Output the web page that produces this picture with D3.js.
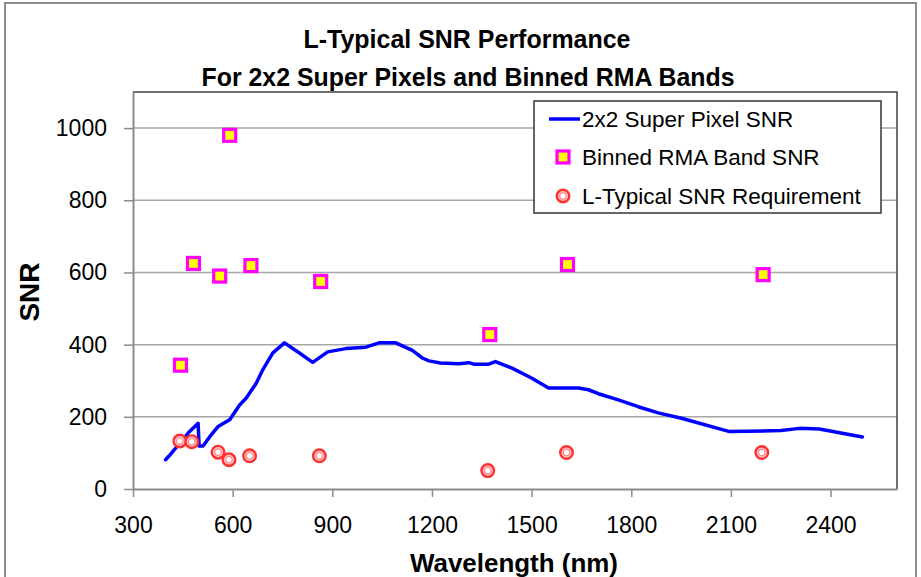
<body style="margin:0">
<script src="https://cdn.jsdelivr.net/npm/d3@7/dist/d3.min.js"></script>
<style>
  text { font-family: "Liberation Sans", Arial, sans-serif; fill: #000; }
  .tick text { font-size: 23px; }
</style>
<script>
// 2x2 super pixel SNR curve
var lineWl  = [398, 409, 441, 466, 496, 499, 511, 531, 556, 591, 621, 641, 671, 691, 721, 756, 801, 841, 886, 941, 1001, 1041, 1091, 1141, 1171, 1191, 1226, 1281, 1311, 1326, 1371, 1391, 1441, 1501, 1551, 1641, 1671, 1701, 1761, 1821, 1881, 1951, 2096, 2251, 2306, 2366, 2496];
var lineSnr = [81, 92, 127, 155, 182, 119, 119, 145, 173, 192, 233, 252, 293, 331, 377, 405, 377, 351, 380, 389, 393, 405, 405, 384, 363, 355, 349, 347, 350, 346, 346, 353, 335, 307, 280, 280, 275, 264, 247, 228, 211, 196, 159, 162, 168, 166, 144];

// binned RMA bands
var bandWl  = [443, 482, 561, 591, 655, 865, 1374, 1608, 2197];
var bandSnr = [343, 625, 590, 980, 619, 575, 428, 622, 594];

// L-typical requirement
var reqWl  = [441, 477, 556, 589, 651, 861, 1368, 1605, 2193];
var reqSnr = [133, 131, 102, 81, 92, 92, 51, 101, 101];

var xTicks = [300, 600, 900, 1200, 1500, 1800, 2100, 2400];
var yTicks = [0, 200, 400, 600, 800, 1000];

var W = 921, H = 577;
var pLeft = 133, pRight = 897, pTop = 92, pBottom = 489;

var svg = d3.select("body").append("svg")
  .attr("width", W).attr("height", H);

// outer chart frame
svg.append("rect")
  .attr("x", 5).attr("y", 3).attr("width", 911).attr("height", 600)
  .attr("fill", "white").attr("stroke", "#8c8c8c").attr("stroke-width", 2);

var x = d3.scaleLinear().domain([300, 2600]).range([pLeft, pRight]);
var y = d3.scaleLinear().domain([0, 1100]).range([pBottom, pTop]);

// gridlines
svg.append("g").selectAll("line")
  .data(yTicks.filter(d => d > 0))
  .enter().append("line")
  .attr("x1", pLeft).attr("x2", pRight)
  .attr("y1", d => y(d)).attr("y2", d => y(d))
  .attr("stroke", "#a6a6a6").attr("stroke-width", 1.5);

// plot frame top/right
svg.append("path")
  .attr("d", "M" + pLeft + "," + pTop + "H" + pRight + "V" + pBottom)
  .attr("fill", "none").attr("stroke", "#404040").attr("stroke-width", 1.5);

var fmt = d3.format("d");
var yAxis = svg.append("g")
  .attr("transform", "translate(" + pLeft + ",0)")
  .call(d3.axisLeft(y).tickValues(yTicks).tickFormat(fmt).tickSize(9).tickSizeOuter(0).tickPadding(17));
var xAxis = svg.append("g")
  .attr("transform", "translate(0," + pBottom + ")")
  .call(d3.axisBottom(x).tickValues(xTicks).tickFormat(fmt).tickSize(8).tickSizeOuter(0).tickPadding(20));

[xAxis, yAxis].forEach(a => {
  a.select(".domain").attr("stroke", "#8c8c8c").attr("stroke-width", 2);
  a.selectAll(".tick line").attr("stroke", "#8c8c8c").attr("stroke-width", 1.5);
  a.selectAll(".tick text").attr("fill", "#000");
});

// curve
var line = d3.line().x((d, i) => x(lineWl[i])).y(d => y(d));
svg.append("path")
  .datum(lineSnr)
  .attr("d", line)
  .attr("fill", "none").attr("stroke", "#0000ff")
  .attr("stroke-width", 3.5).attr("stroke-linejoin", "round").attr("stroke-linecap", "round");

// band squares
svg.append("g").selectAll("rect")
  .data(bandSnr)
  .enter().append("rect")
  .attr("x", (d, i) => x(bandWl[i]) - 6)
  .attr("y", d => y(d) - 6)
  .attr("width", 12).attr("height", 12)
  .attr("fill", "#ffff00").attr("stroke", "#ff00ff").attr("stroke-width", 3.2);

// requirement circles (red ring, pale inner ring, white centre)
function ring(g, cx, cy) {
  g.append("circle").attr("cx", cx).attr("cy", cy).attr("r", 6.3)
    .attr("fill", "#ffc4c4").attr("stroke", "#ff3030").attr("stroke-width", 2.4);
  g.append("circle").attr("cx", cx).attr("cy", cy).attr("r", 3.3)
    .attr("fill", "white").attr("stroke", "#ff7070").attr("stroke-width", 1);
}
var rg = svg.append("g");
reqSnr.forEach((d, i) => ring(rg, x(reqWl[i]), y(d)));

// legend
var lg = svg.append("g");
lg.append("rect")
  .attr("x", 534).attr("y", 101).attr("width", 347).attr("height", 112)
  .attr("fill", "white").attr("stroke", "#333").attr("stroke-width", 1.5);
lg.append("line")
  .attr("x1", 549).attr("x2", 580).attr("y1", 119).attr("y2", 119)
  .attr("stroke", "#0000ff").attr("stroke-width", 3.5);
lg.append("rect")
  .attr("x", 557).attr("y", 151).attr("width", 12).attr("height", 12)
  .attr("fill", "#ffff00").attr("stroke", "#ff00ff").attr("stroke-width", 3.2);
ring(lg, 563, 196);
var labels = ["2x2 Super Pixel SNR", "Binned RMA Band SNR", "L-Typical SNR Requirement"];
var ly = [119, 157, 196];
labels.forEach((t, i) => {
  lg.append("text").attr("x", 582).attr("y", ly[i])
    .attr("dominant-baseline", "central")
    .style("font-size", "22.5px").text(t);
});

// titles
svg.append("text").attr("x", 467).attr("y", 48)
  .attr("text-anchor", "middle").style("font-size", "26px").style("font-weight", "bold")
  .attr("textLength", 327).attr("lengthAdjust", "spacingAndGlyphs")
  .text("L-Typical SNR Performance");
svg.append("text").attr("x", 468).attr("y", 86)
  .attr("text-anchor", "middle").style("font-size", "26px").style("font-weight", "bold")
  .attr("textLength", 533).attr("lengthAdjust", "spacingAndGlyphs")
  .text("For 2x2 Super Pixels and Binned RMA Bands");

svg.append("text").attr("x", 514).attr("y", 572)
  .attr("text-anchor", "middle").style("font-size", "25.5px").style("font-weight", "bold")
  .attr("textLength", 208).attr("lengthAdjust", "spacingAndGlyphs")
  .text("Wavelength (nm)");

svg.append("text")
  .attr("transform", "translate(39,292) rotate(-90)")
  .attr("text-anchor", "middle").style("font-size", "28px").style("font-weight", "bold")
  .text("SNR");
</script>
</body>
